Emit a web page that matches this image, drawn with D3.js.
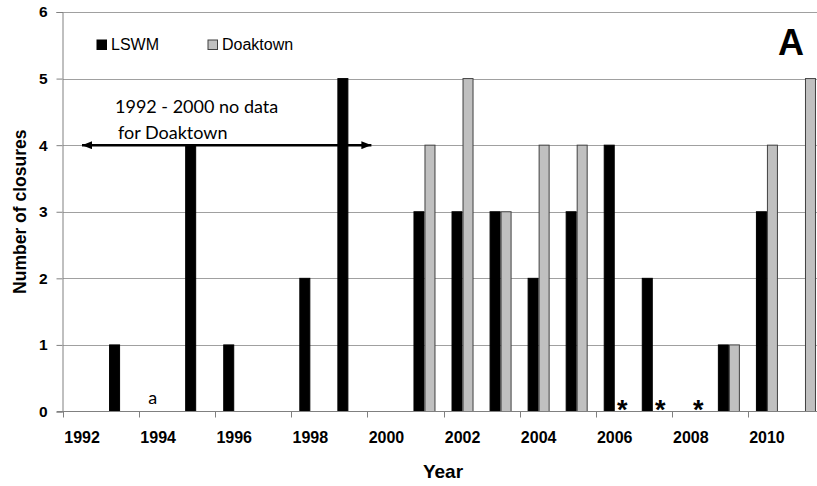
<!DOCTYPE html>
<html>
<head>
<meta charset="utf-8">
<script src="https://cdn.jsdelivr.net/npm/d3@7"></script>
<style>
  body { margin: 0; background: #fff; }
  svg { display: block; font-family: "Liberation Sans", Arial, sans-serif; }
</style>
</head>
<body>
<svg width="817" height="486"></svg>
<script>
const years = d3.range(1992, 2012);
const lswm = [0, 1, 0, 4, 1, 0, 2, 5, 0, 3, 3, 3, 2, 3, 4, 2, 0, 1, 3, 0];
// null = no data for Doaktown
const doaktown = [null, null, null, null, null, null, null, null, null,
  4, 5, 3, 4, 4, 0, 0, 0, 1, 4, 5];
const series = ["LSWM", "Doaktown"];
const yTicks = [0, 1, 2, 3, 4, 5, 6];
const xTickYears = [1992, 1994, 1996, 1998, 2000, 2002, 2004, 2006, 2008, 2010];
const starYears = [2006, 2007, 2008];
const colors = { LSWM: "#000", Doaktown: "#c0c0c0" };
const strokes = { LSWM: "#000", Doaktown: "#404040" };

const svg = d3.select("svg");
const margin = { top: 12, left: 63, bottom: 75 };
const plotBottom = 486 - margin.bottom + 0.5;

// band axis runs past the right edge, like the cropped original
const x = d3.scaleBand().domain(years).range([margin.left, margin.left + 20 * 38.05]);
const bw = x.bandwidth();
const x1 = d3.scaleBand().domain(series).range([bw / 2 - 11, bw / 2 + 11]);
const y = d3.scaleLinear().domain([0, 6]).range([plotBottom, margin.top]);

const rows = years.map((yr, i) => ({ year: yr, LSWM: lswm[i], Doaktown: doaktown[i] }));

// gridlines
svg.append("g")
  .selectAll("line")
  .data(yTicks.filter((d) => d > 0))
  .join("line")
  .attr("x1", margin.left)
  .attr("x2", 817)
  .attr("y1", (d) => Math.round(y(d)) + 0.5)
  .attr("y2", (d) => Math.round(y(d)) + 0.5)
  .attr("stroke", "#a0a0a0")
  .attr("stroke-width", 1);

// bars
const groups = svg.append("g")
  .selectAll("g")
  .data(rows)
  .join("g")
  .attr("transform", (d) => `translate(${x(d.year)},0)`);

groups.selectAll("rect")
  .data((d) => series.map((k) => ({ key: k, value: d[k] })).filter((s) => s.value))
  .join("rect")
  .attr("x", (d) => x1(d.key) + 0.5)
  .attr("width", x1.bandwidth() - 1)
  .attr("y", (d) => y(d.value))
  .attr("height", (d) => y(0) - y(d.value))
  .attr("fill", (d) => colors[d.key])
  .attr("stroke", (d) => strokes[d.key])
  .attr("stroke-width", 1);

// y axis
const yAxis = svg.append("g")
  .attr("transform", `translate(${margin.left - 0.5},0)`)
  .call(d3.axisLeft(y).tickValues(yTicks).tickSize(6).tickPadding(9).tickFormat(d3.format("d")));
yAxis.select(".domain").attr("stroke", "#808080");
yAxis.selectAll(".tick line").attr("stroke", "#808080");
yAxis.selectAll("text").attr("font-size", 15.5).attr("font-weight", "bold").attr("fill", "#000");

// x axis: labels centered on bands, ticks on band edges
const xAxis = svg.append("g")
  .attr("transform", `translate(0,${plotBottom})`)
  .call(d3.axisBottom(x).tickValues(xTickYears).tickSize(0).tickPadding(20));
xAxis.select(".domain").attr("stroke", "#808080").attr("d", `M${margin.left - 6},0H817`);
xAxis.selectAll("text").attr("font-size", 16).attr("font-weight", "bold").attr("fill", "#000");
xAxis.selectAll(".tickmark")
  .data(xTickYears)
  .join("line")
  .attr("x1", (d) => Math.round(x(d)) + 0.5)
  .attr("x2", (d) => Math.round(x(d)) + 0.5)
  .attr("y1", 0)
  .attr("y2", 6)
  .attr("stroke", "#808080");

// axis titles
svg.append("text")
  .attr("transform", `translate(26,${(margin.top + plotBottom) / 2}) rotate(-90)`)
  .attr("text-anchor", "middle")
  .attr("font-size", 17.5)
  .attr("font-weight", "bold")
  .text("Number of closures");

svg.append("text")
  .attr("x", 443)
  .attr("y", 478)
  .attr("text-anchor", "middle")
  .attr("font-size", 19)
  .attr("font-weight", "bold")
  .text("Year");

// panel letter
svg.append("text")
  .attr("x", 791)
  .attr("y", 55)
  .attr("text-anchor", "middle")
  .attr("font-size", 36)
  .attr("font-weight", "bold")
  .text("A");

// legend
const legend = svg.append("g").attr("transform", "translate(97,40)");
const items = legend.selectAll("g")
  .data(series)
  .join("g")
  .attr("transform", (d, i) => `translate(${i * 111},0)`);
items.append("rect")
  .attr("width", 9.5)
  .attr("height", 9.5)
  .attr("fill", (d) => colors[d])
  .attr("stroke", (d) => strokes[d]);
items.append("text")
  .attr("x", 14)
  .attr("y", 10)
  .attr("font-size", 16)
  .text((d) => d);

// annotation: no data range
const defs = svg.append("defs");
defs.append("marker")
  .attr("id", "arrow")
  .attr("viewBox", "0 0 10 8")
  .attr("refX", 10)
  .attr("refY", 4)
  .attr("markerWidth", 10)
  .attr("markerHeight", 8)
  .attr("markerUnits", "userSpaceOnUse")
  .attr("orient", "auto-start-reverse")
  .append("path")
  .attr("d", "M0,0L10,4L0,8Z")
  .attr("fill", "#000");

svg.append("line")
  .attr("x1", x(1992) + 19)
  .attr("x2", x(2000) + 4)
  .attr("y1", y(4))
  .attr("y2", y(4))
  .attr("stroke", "#000")
  .attr("stroke-width", 2.5)
  .attr("marker-start", "url(#arrow)")
  .attr("marker-end", "url(#arrow)");

const note = svg.append("text")
  .attr("font-family", "Lato, 'Open Sans', sans-serif")
  .attr("font-size", 18)
  .attr("fill", "#000");
note.append("tspan").attr("x", 115).attr("y", 113).text("1992 - 2000 no data");
note.append("tspan").attr("x", 118).attr("y", 139).text("for Doaktown");

// "a" marks zero LSWM in 1994, asterisks mark zero Doaktown
svg.append("text")
  .attr("x", x(1994) + x1("LSWM") + x1.bandwidth() / 2)
  .attr("y", 404)
  .attr("text-anchor", "middle")
  .attr("font-family", "Lato, 'Open Sans', sans-serif")
  .attr("font-size", 18)
  .text("a");

svg.append("g")
  .selectAll("text")
  .data(starYears)
  .join("text")
  .attr("x", (d) => x(d) + x1("Doaktown") + x1.bandwidth() / 2 + 2)
  .attr("y", 419)
  .attr("text-anchor", "middle")
  .attr("font-size", 27)
  .attr("font-weight", "bold")
  .text("*");
</script>
</body>
</html>
